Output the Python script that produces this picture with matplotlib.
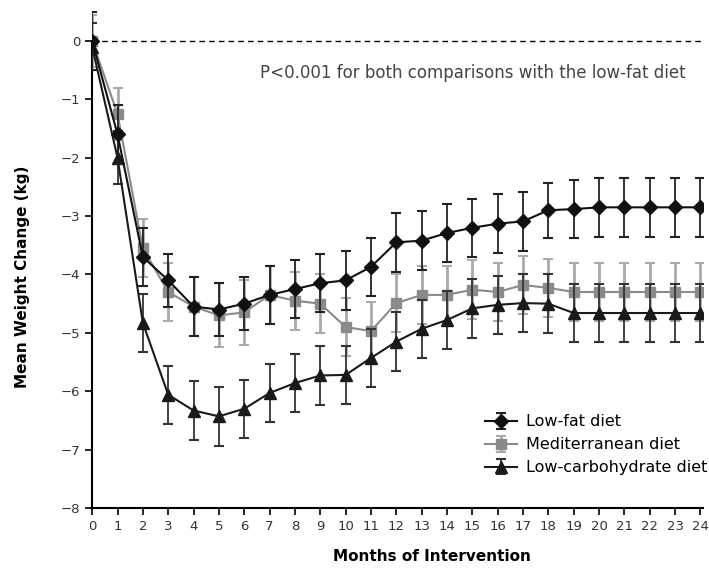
import matplotlib
matplotlib.use("Agg")
import matplotlib.pyplot as plt
import numpy as np

months = list(range(0, 25))

low_fat = [0.0, -1.6, -3.7, -4.1, -4.55, -4.6, -4.5, -4.35, -4.25, -4.15, -4.1, -3.87,
           -3.45, -3.42, -3.29, -3.2, -3.13, -3.09, -2.9, -2.88, -2.85, -2.85, -2.85, -2.85, -2.85]
low_fat_err = [0.5, 0.5, 0.5, 0.45, 0.5, 0.45, 0.45, 0.5, 0.5, 0.5, 0.5, 0.5,
               0.5, 0.5, 0.5, 0.5, 0.5, 0.5, 0.47, 0.5, 0.5, 0.5, 0.5, 0.5, 0.5]

mediterranean = [0.0, -1.25, -3.55, -4.3, -4.55, -4.7, -4.65, -4.35, -4.45, -4.5, -4.9, -4.97,
                 -4.49, -4.35, -4.35, -4.26, -4.3, -4.18, -4.23, -4.3, -4.3, -4.3, -4.3, -4.3, -4.3]
mediterranean_err = [0.45, 0.45, 0.5, 0.5, 0.5, 0.55, 0.55, 0.5, 0.5, 0.5, 0.5, 0.5,
                     0.5, 0.5, 0.5, 0.5, 0.5, 0.5, 0.5, 0.5, 0.5, 0.5, 0.5, 0.5, 0.5]

low_carb = [-0.1, -2.0, -4.83, -6.06, -6.33, -6.43, -6.3, -6.03, -5.86, -5.73, -5.72, -5.43,
            -5.15, -4.93, -4.78, -4.58, -4.52, -4.49, -4.5, -4.66, -4.66, -4.66, -4.66, -4.66, -4.66]
low_carb_err = [0.4, 0.45, 0.5, 0.5, 0.5, 0.5, 0.5, 0.5, 0.5, 0.5, 0.5, 0.5,
                0.5, 0.5, 0.5, 0.5, 0.5, 0.5, 0.5, 0.5, 0.5, 0.5, 0.5, 0.5, 0.5]

y_ticks = [0, -1, -2, -3, -4, -5, -6, -7, -8]

fig = plt.figure(figsize=(7.09, 5.68), dpi=100)
ax = fig.add_axes([0.13, 0.1056, 0.8615, 0.884])

ax.axhline(0, color="black", linestyle=(0, (4, 3)), linewidth=1.0, zorder=1)

ax.errorbar(months, mediterranean, yerr=mediterranean_err, color="#8a8a8a", marker="s",
            markersize=7.5, linewidth=1.5, capsize=3.5, elinewidth=2.0, capthick=1.5,
            ecolor="#aaaaaa", label="Mediterranean diet", zorder=2)
ax.errorbar(months, low_carb, yerr=low_carb_err, color="#1a1a1a", marker="^",
            markersize=8, linewidth=1.5, capsize=3.5, elinewidth=1.3, capthick=1.5,
            ecolor="#333333", label="Low-carbohydrate diet", zorder=3)
ax.errorbar(months, low_fat, yerr=low_fat_err, color="#111111", marker="D",
            markersize=7.5, linewidth=1.5, capsize=3.5, elinewidth=1.3, capthick=1.5,
            ecolor="#222222", label="Low-fat diet", zorder=4)

ax.set_xlim(0, 24.1)
ax.set_ylim(-8, 0.6)
ax.spines["top"].set_visible(False)
ax.spines["right"].set_visible(False)
ax.spines["left"].set_bounds(-8, 0)
ax.spines["left"].set_linewidth(1.5)
ax.spines["bottom"].set_linewidth(1.5)
ax.set_yticks(y_ticks)
ax.set_yticklabels([("\u2212" + str(-v)) if v < 0 else str(v) for v in y_ticks], fontsize=9.5, color="#333333")
ax.set_xticks(months)
ax.set_xticklabels([str(m) for m in months], fontsize=9.5, color="#333333")
ax.tick_params(axis="both", direction="out", length=5, width=1.2)

ax.set_xlabel("Months of Intervention", fontsize=11, fontweight="bold")
ax.xaxis.set_label_coords(0.556, -0.082)
ax.set_ylabel("Mean Weight Change (kg)", fontsize=11, fontweight="bold")
ax.yaxis.set_label_coords(-0.102, 0.46)

ax.text(23.4, -0.55, "P<0.001 for both comparisons with the low-fat diet", fontsize=12,
        ha="right", va="center", color="#444444")

handles, labels = ax.get_legend_handles_labels()
order = [2, 0, 1]
ax.legend([handles[i] for i in order], [labels[i] for i in order], loc="upper left",
          bbox_to_anchor=(0.643, 0.187), bbox_transform=ax.transAxes, borderpad=0,
          borderaxespad=0, frameon=False, fontsize=11.5, handlelength=2.0,
          handletextpad=0.55, labelspacing=0.5)

fig.savefig("out.png", dpi=100)
